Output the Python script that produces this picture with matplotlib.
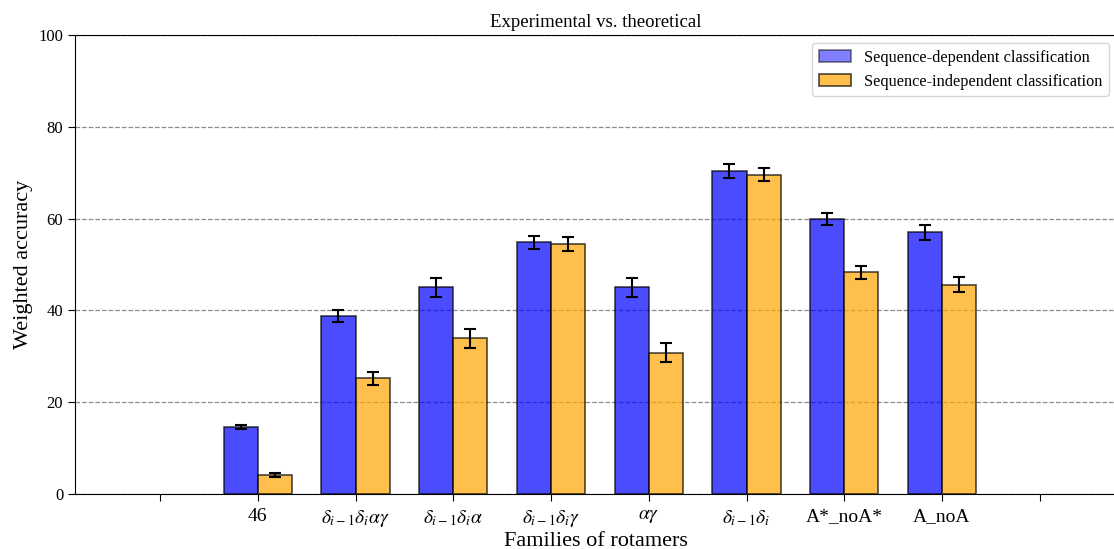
import numpy as np
import matplotlib.pyplot as plt

plt.rcParams["font.family"] = ["Liberation Serif", "DejaVu Serif"]
plt.rcParams["mathtext.fontset"] = "stix"

# families of rotamers (empty slots at both ends of the axis)
families = [
    "",
    "46",
    r"$\delta_{i-1}\delta_i\alpha\gamma$",
    r"$\delta_{i-1}\delta_i\alpha$",
    r"$\delta_{i-1}\delta_i\gamma$",
    r"$\alpha\gamma$",
    r"$\delta_{i-1}\delta_i$",
    "A*_noA*",
    "A_noA",
    "",
]

seq_dep = [14.6, 38.7, 45.0, 54.8, 45.0, 70.4, 59.9, 57.0]
seq_dep_err = [0.5, 1.3, 2.0, 1.5, 2.0, 1.5, 1.4, 1.6]

seq_indep = [4.1, 25.2, 33.9, 54.4, 30.8, 69.6, 48.3, 45.6]
seq_indep_err = [0.5, 1.4, 2.0, 1.5, 2.0, 1.5, 1.4, 1.6]

fig = plt.figure(figsize=(11.14, 5.49), dpi=100)
ax = fig.add_axes([0.0673, 0.1002, 0.9354, 0.836])

x = np.arange(1, len(seq_dep) + 1)
width = 0.35

ax.bar(
    x - width / 2,
    seq_dep,
    width,
    yerr=seq_dep_err,
    capsize=4.5,
    color="blue",
    alpha=0.7,
    edgecolor="black",
    linewidth=1.2,
    error_kw=dict(elinewidth=1.5, capthick=1.5, ecolor="black"),
    label="Sequence-dependent classification",
)

ax.bar(
    x + width / 2,
    seq_indep,
    width,
    yerr=seq_indep_err,
    capsize=4.5,
    color="orange",
    alpha=0.7,
    edgecolor="black",
    linewidth=1.2,
    error_kw=dict(elinewidth=1.5, capthick=1.5, ecolor="black"),
    label="Sequence-independent classification",
)

ax.set_xticks(np.arange(len(families)))
ax.set_xticklabels(families, fontsize=14)
ax.set_xlim(-0.87, 9.79)
ax.set_ylim(0, 100)
ax.tick_params(axis="x", length=5, pad=5)
ax.tick_params(axis="y", labelsize=12, length=5)

ax.yaxis.grid(True, linestyle="--", color="gray", alpha=0.9, linewidth=0.9)
ax.set_axisbelow(True)

ax.set_title("Experimental vs. theoretical", fontsize=13.5)
ax.set_xlabel("Families of rotamers", fontsize=16, labelpad=2)
ax.set_ylabel("Weighted accuracy", fontsize=16)

leg = ax.legend(loc="upper right", fontsize=11.7)
# legend swatch for the blue series shows lighter than the bars
leg.legend_handles[0].set_alpha(0.5)

plt.savefig("out.png", dpi=100)
plt.close()
